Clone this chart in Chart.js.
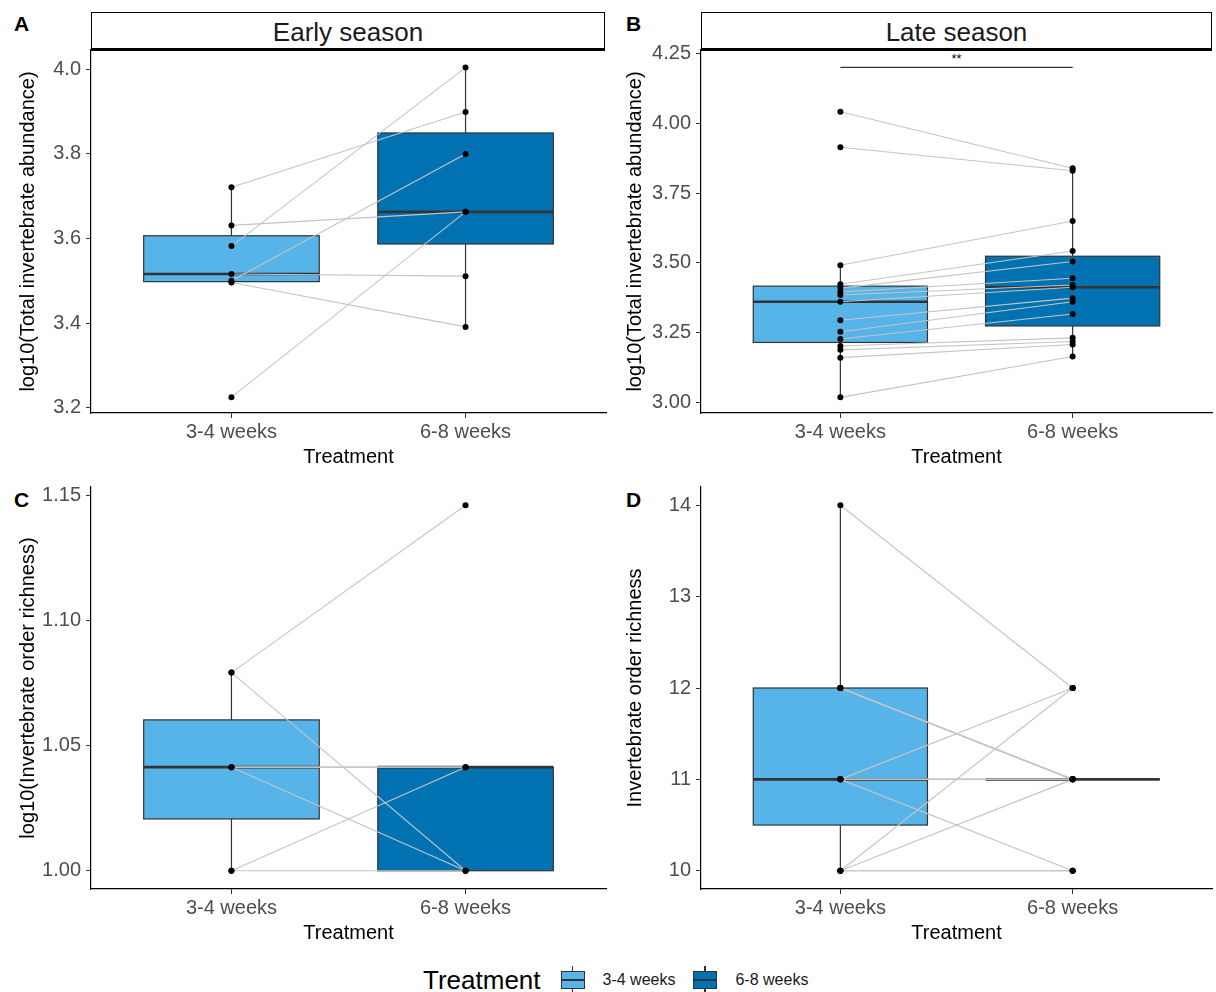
<!DOCTYPE html>
<html lang="en">
<head>
    <meta charset="UTF-8">
    <title>Invertebrate abundance and richness by treatment</title>
    <script src="https://cdn.jsdelivr.net/npm/chart.js"></script>
    <style>
        body { margin: 0; background: #fff; font-family: "Liberation Sans", Arial, sans-serif; }
        #fig { position: relative; width: 1216px; height: 992px; background: #fff; overflow: hidden; }
        #fig canvas { position: absolute; }
        .tag { position: absolute; font-weight: bold; font-size: 21px; line-height: 1; }
        .strip { position: absolute; top: 12px; height: 35px; border: 1.5px solid #000; border-bottom-width: 3px;
                 text-align: center; font-size: 26px; line-height: 39px; color: #1a1a1a; box-sizing: content-box; }
        .legend { position: absolute; top: 965px; left: 423px; height: 30px; display: flex; align-items: center; }
        .legend .ttl { font-size: 26px; margin-right: 20px; }
        .legend .lab { font-size: 16px; margin-right: 18px; color: #1a1a1a; }
        .key { position: relative; width: 24px; height: 28px; margin-right: 18px; }
        .key .wh { position: absolute; left: 11px; top: 0; width: 1.2px; height: 28px; background: #333; }
        .key .bx { position: absolute; left: 0; top: 5px; width: 22px; height: 16px; border: 1px solid #333; }
        .key .md { position: absolute; left: 0; top: 7px; width: 22px; height: 2px; background: #333; }
    </style>
</head>
<body>
<div id="fig">
    <div class="tag" style="left:14px; top:13px;">A</div>
    <div class="tag" style="left:626px; top:13px;">B</div>
    <div class="tag" style="left:14px; top:489px;">C</div>
    <div class="tag" style="left:626px; top:489px;">D</div>

    <div class="strip" style="left:91px; width:512px;">Early season</div>
    <div class="strip" style="left:701px; width:509px;">Late season</div>

    <canvas id="chartA" width="594" height="440" style="left:16px; top:40px;"></canvas>
    <canvas id="chartB" width="593" height="440" style="left:623px; top:40px;"></canvas>
    <canvas id="chartC" width="594" height="478" style="left:16px; top:477px;"></canvas>
    <canvas id="chartD" width="593" height="478" style="left:623px; top:477px;"></canvas>

    <div class="legend">
        <span class="ttl">Treatment</span>
        <div class="key"><div class="wh"></div><div class="bx" style="background:#56B4E9"><div class="md"></div></div></div>
        <span class="lab">3-4 weeks</span>
        <div class="key"><div class="wh"></div><div class="bx" style="background:#0072B2"><div class="md"></div></div></div>
        <span class="lab">6-8 weeks</span>
    </div>
</div>

<script>
    // categorias
    const treatments = ['3-4 weeks', '6-8 weeks'];

    // A - early season, log10 total abundance (paired, same order in both arrays)
    const earlyAbund34 = [3.721, 3.631, 3.582, 3.516, 3.500, 3.496, 3.225];
    const earlyAbund68 = [3.899, 3.663, 4.004, 3.511, 3.800, 3.391, 3.663];

    // B - late season, log10 total abundance
    const lateAbund34 = [4.041, 3.914, 3.492, 3.424, 3.410, 3.396, 3.385, 3.361, 3.295, 3.254, 3.228, 3.203, 3.189, 3.161, 3.019];
    const lateAbund68 = [3.839, 3.830, 3.650, 3.543, 3.505, 3.445, 3.421, 3.413, 3.374, 3.361, 3.317, 3.232, 3.219, 3.208, 3.165];

    // C - early season, log10 order richness
    const earlyRich34 = [1.0, 1.0, 1.0414, 1.0414, 1.0414, 1.0792, 1.0792];
    const earlyRich68 = [1.0414, 1.0, 1.0414, 1.0414, 1.0, 1.1461, 1.0];

    // D - late season, order richness
    const lateRich34 = [14, 12, 12, 12, 12, 11, 11, 11, 11, 11, 11, 10, 10, 10, 10];
    const lateRich68 = [12, 11, 11, 11, 11, 12, 11, 11, 11, 11, 10, 12, 11, 10, 10];

    // tick labels
    const ticksA = [3.2, 3.4, 3.6, 3.8, 4.0];
    const ticksB = [3.00, 3.25, 3.50, 3.75, 4.00, 4.25];
    const ticksC = [1.00, 1.05, 1.10, 1.15];
    const ticksD = [10, 11, 12, 13, 14];

    // axis ranges
    const rangeA = [3.1875, 4.0456];
    const rangeB = [2.963, 4.262];
    const rangeC = [0.9927, 1.1534];
    const rangeD = [9.8, 14.2];

    // significance bar in panel B
    const sigLabel = '**';
    const sigY = 4.2;

    const colors = ['#56B4E9', '#0072B2'];

    Chart.defaults.font.family = '"Liberation Sans", Arial, sans-serif';

    function quantile(sorted, p) {
        const h = (sorted.length - 1) * p;
        const lo = Math.floor(h);
        if (lo + 1 >= sorted.length) return sorted[lo];
        return sorted[lo] + (h - lo) * (sorted[lo + 1] - sorted[lo]);
    }

    function boxStats(vals) {
        const s = vals.slice().sort((a, b) => a - b);
        const q1 = quantile(s, 0.25), med = quantile(s, 0.5), q3 = quantile(s, 0.75);
        const iqr = q3 - q1;
        const inside = s.filter(v => v >= q1 - 1.5 * iqr - 1e-9 && v <= q3 + 1.5 * iqr + 1e-9);
        return { q1, med, q3, lo: Math.min(inside[0], q1), hi: Math.max(inside[inside.length - 1], q3) };
    }

    // dibuja las cajas con las escalas del grafico
    const boxplotPlugin = {
        id: 'boxplot',
        beforeDatasetsDraw(chart, args, opts) {
            if (!opts.groups) return;
            const ctx = chart.ctx, xs = chart.scales.x, ys = chart.scales.y;
            ctx.save();
            opts.groups.forEach((vals, i) => {
                const st = boxStats(vals);
                const xc = i + 1;
                const x0 = xs.getPixelForValue(xc - opts.width / 2);
                const x1 = xs.getPixelForValue(xc + opts.width / 2);
                const xm = xs.getPixelForValue(xc);
                const yq1 = ys.getPixelForValue(st.q1), yq3 = ys.getPixelForValue(st.q3);

                ctx.strokeStyle = '#333333';
                ctx.lineWidth = 1.2;
                ctx.beginPath();
                ctx.moveTo(xm, ys.getPixelForValue(st.lo));
                ctx.lineTo(xm, yq1);
                ctx.moveTo(xm, yq3);
                ctx.lineTo(xm, ys.getPixelForValue(st.hi));
                ctx.stroke();

                ctx.fillStyle = opts.fills[i];
                ctx.fillRect(x0, yq3, x1 - x0, yq1 - yq3);
                ctx.strokeRect(x0, yq3, x1 - x0, yq1 - yq3);

                ctx.lineWidth = 2.6;
                ctx.beginPath();
                ctx.moveTo(x0, ys.getPixelForValue(st.med));
                ctx.lineTo(x1, ys.getPixelForValue(st.med));
                ctx.stroke();
            });
            ctx.restore();
        }
    };

    const signifPlugin = {
        id: 'signif',
        afterDatasetsDraw(chart, args, opts) {
            if (!opts.label) return;
            const ctx = chart.ctx, xs = chart.scales.x, ys = chart.scales.y;
            const y = ys.getPixelForValue(opts.y);
            ctx.save();
            ctx.strokeStyle = '#000';
            ctx.lineWidth = 1;
            ctx.beginPath();
            ctx.moveTo(xs.getPixelForValue(1), y);
            ctx.lineTo(xs.getPixelForValue(2), y);
            ctx.stroke();
            ctx.fillStyle = '#000';
            ctx.font = '13px "Liberation Sans", Arial, sans-serif';
            ctx.textAlign = 'center';
            ctx.textBaseline = 'bottom';
            ctx.fillText(opts.label, (xs.getPixelForValue(1) + xs.getPixelForValue(2)) / 2, y - 1);
            ctx.restore();
        }
    };

    Chart.register(boxplotPlugin, signifPlugin);

    function makeChart(id, left, right, yTicks, yRange, decimals, yTitle, axisWidth, padRight, padBottom, sig) {
        const datasets = [];
        // puntos
        datasets.push({
            data: left.map(v => ({ x: 1, y: v })).concat(right.map(v => ({ x: 2, y: v }))),
            showLine: false,
            pointRadius: 3,
            pointBackgroundColor: '#000',
            pointBorderWidth: 0,
            order: 0
        });
        // lineas entre pares
        left.forEach((v, i) => {
            datasets.push({
                data: [{ x: 1, y: v }, { x: 2, y: right[i] }],
                showLine: true,
                borderColor: '#c4c4c4',
                borderWidth: 1.1,
                pointRadius: 0,
                order: 1
            });
        });

        return new Chart(document.getElementById(id), {
            type: 'scatter',
            data: { datasets: datasets },
            options: {
                responsive: false,
                animation: false,
                events: [],
                layout: { padding: { top: 10, right: padRight, bottom: padBottom, left: 0 } },
                plugins: {
                    legend: { display: false },
                    tooltip: { enabled: false },
                    boxplot: { groups: [left, right], fills: colors, width: 0.75 },
                    signif: sig || {}
                },
                scales: {
                    x: {
                        type: 'linear',
                        min: 0.4,
                        max: 2.6,
                        afterBuildTicks: s => { s.ticks = [{ value: 1 }, { value: 2 }]; },
                        afterFit: s => { s.height = 56; s.paddingLeft = 0; s.paddingRight = 0; },
                        ticks: {
                            callback: v => treatments[v - 1],
                            color: '#4d4d4d',
                            font: { size: 20 },
                            padding: 2,
                            autoSkip: false,
                            maxRotation: 0
                        },
                        grid: { drawOnChartArea: false, tickLength: 5, color: '#333333' },
                        border: { color: '#000', width: 1.2 },
                        title: { display: true, text: 'Treatment', color: '#000', font: { size: 20 }, padding: 0 }
                    },
                    y: {
                        min: yRange[0],
                        max: yRange[1],
                        afterBuildTicks: s => { s.ticks = yTicks.map(v => ({ value: v })); },
                        afterFit: s => { s.width = axisWidth; s.paddingTop = 0; s.paddingBottom = 0; },
                        ticks: {
                            callback: v => v.toFixed(decimals),
                            color: '#4d4d4d',
                            font: { size: 20 },
                            padding: 5
                        },
                        grid: { drawOnChartArea: false, tickLength: 5, color: '#333333' },
                        border: { color: '#000', width: 1.2 },
                        title: { display: true, text: yTitle, color: '#000', font: { size: 20 }, padding: 0 }
                    }
                }
            }
        });
    }

    makeChart('chartA', earlyAbund34, earlyAbund68, ticksA, rangeA, 1, 'log10(Total invertebrate abundance)', 75, 4, 11);
    makeChart('chartB', lateAbund34, lateAbund68, ticksB, rangeB, 2, 'log10(Total invertebrate abundance)', 78, 3, 11,
        { label: sigLabel, y: sigY });
    makeChart('chartC', earlyRich34, earlyRich68, ticksC, rangeC, 2, 'log10(Invertebrate order richness)', 75, 4, 10);
    makeChart('chartD', lateRich34, lateRich68, ticksD, rangeD, 0, 'Invertebrate order richness', 78, 3, 10);
</script>
</body>
</html>
